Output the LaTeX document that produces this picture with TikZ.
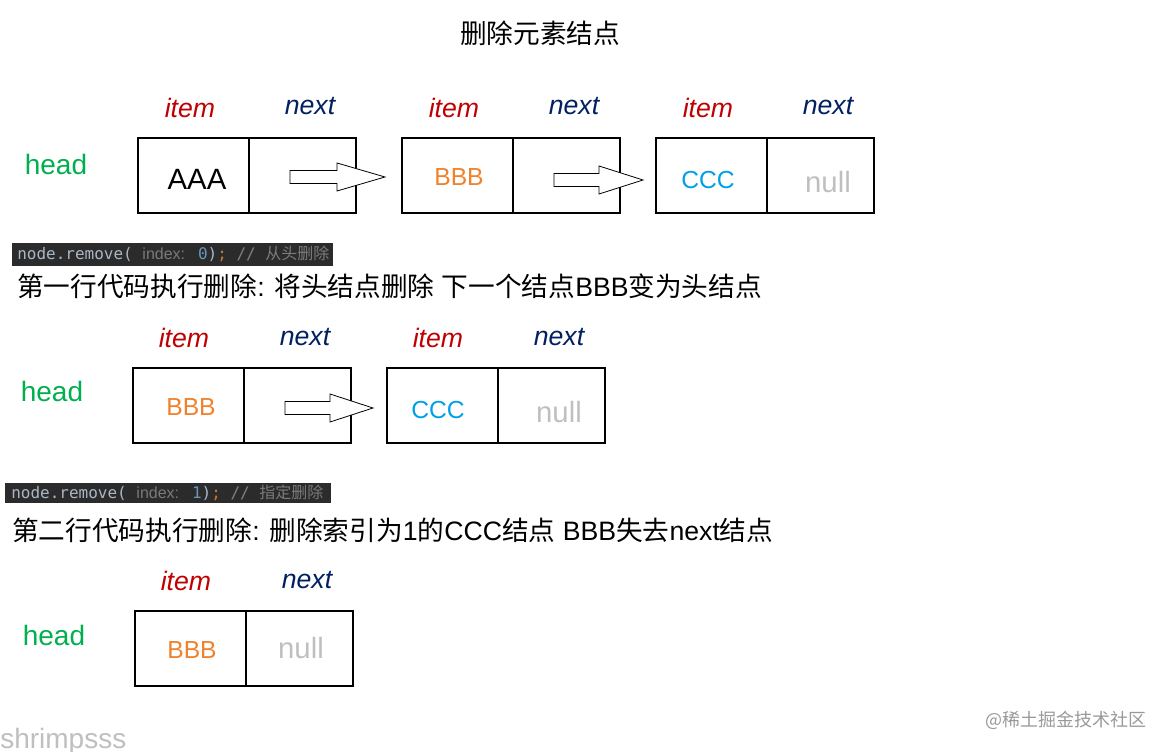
\documentclass[tikz,border=0pt]{standalone}
\usepackage{fontspec}
\setmainfont{Liberation Sans}
\newfontfamily\cjk{Noto Sans CJK SC}
\newfontfamily\monof{DejaVu Sans Mono}
\definecolor{itemred}{HTML}{C00000}
\definecolor{nextblue}{HTML}{002060}
\definecolor{headgreen}{HTML}{00B050}
\definecolor{bbborange}{HTML}{F0822D}
\definecolor{cccblue}{HTML}{00A0E6}
\definecolor{nullgray}{HTML}{BFBFBF}
\definecolor{codebg}{HTML}{2B2B2B}
\definecolor{codefg}{HTML}{A9B7C6}
\definecolor{hintgray}{HTML}{7A7A7A}
\definecolor{numblue}{HTML}{6897BB}
\definecolor{semiorange}{HTML}{CC7832}
\definecolor{commentgray}{HTML}{808080}
\tikzset{
  itemlbl/.style={font=\fontsize{20}{24}\selectfont\itshape, text=itemred, inner sep=0},
  nextlbl/.style={font=\fontsize{20}{24}\selectfont\itshape, text=nextblue, inner sep=0},
  headlbl/.style={font=\fontsize{21}{24}\selectfont, text=headgreen, inner sep=0},
  val/.style={font=\fontsize{18.5}{22}\selectfont, inner sep=0},
  nullval/.style={font=\fontsize{22}{26}\selectfont, inner sep=0, text=nullgray},
  boxline/.style={line width=2pt},
  divline/.style={line width=1.4pt},
  arrowline/.style={line width=0.6pt, fill=white},
  codebar/.style={fill=codebg, draw=none},
  codetext/.style={inner sep=0, anchor=west, font=\fontsize{12}{15}\monof, text=codefg},
  cnline/.style={inner sep=0, anchor=west, font=\fontsize{20}{22}\selectfont},
}
\newcommand\cellpair[3]{% x-left, y-top, name
  \draw[boxline] (#1,#2) rectangle ({#1+218},{#2+75});
  \draw[divline] ({#1+111},#2) -- ({#1+111},{#2+75});
}
\newcommand\blockarr[4]{% x-start, x-tip, y-center, x-head
  \draw[arrowline] (#1,{#3-6.5}) -- (#4,{#3-6.5}) -- (#4,{#3-14}) -- (#2,#3) -- (#4,{#3+14}) -- (#4,{#3+6.5}) -- (#1,{#3+6.5}) -- cycle;
}
\newcommand\hint[1]{{\rmfamily\fontsize{12}{14}\selectfont\color{hintgray}#1}}
\newcommand\cn[1]{{\cjk\fontsize{20}{24}\selectfont #1}}
\begin{document}
\begin{tikzpicture}[x=0.75pt,y=-0.75pt]
\useasboundingbox (0,0) rectangle (1168,752);
% title
\node[inner sep=0, font=\fontsize{20}{24}\cjk] (title) at (540,33) {删除元素结点};

% ---------- row 1 ----------
\node[headlbl] (h1) at (56,164) {head};
\node[itemlbl] (i1a) at (190,108) {item};
\node[nextlbl] (n1a) at (310,106) {next};
\node[itemlbl] (i1b) at (454,108) {item};
\node[nextlbl] (n1b) at (574,106) {next};
\node[itemlbl] (i1c) at (708,108) {item};
\node[nextlbl] (n1c) at (828,106) {next};
\cellpair{138}{138}{c1a}
\cellpair{402}{138}{c1b}
\cellpair{656}{138}{c1c}
\node[inner sep=0, font=\fontsize{22}{26}\selectfont] (v1a) at (197,179) {AAA};
\node[val, text=bbborange] (v1b) at (459,177) {BBB};
\node[val, text=cccblue] (v1c) at (708,180) {CCC};
\node[nullval] (v1d) at (828,182) {null};
\blockarr{290}{385}{177}{337}
\blockarr{554}{643}{180}{599}

% code 1
\fill[codebar] (12,243) rectangle (333,266);
\node[codetext] (code1) at (17,254) {node.remove( \hint{index:} {\color{numblue}0}){\color{semiorange};} {\color{commentgray}// \hint{\cjk 从头删除}}};
\node[cnline] (line1) at (17,286) {\cn{第一行代码执行删除}: \cn{将头结点删除} \cn{下一个结点}BBB\cn{变为头结点}};

% ---------- row 2 ----------
\node[headlbl] (h2) at (52,391) {head};
\node[itemlbl] (i2a) at (184,338) {item};
\node[nextlbl] (n2a) at (305,337) {next};
\node[itemlbl] (i2b) at (438,338) {item};
\node[nextlbl] (n2b) at (559,337) {next};
\cellpair{133}{368}{c2a}
\cellpair{387}{368}{c2b}
\node[val, text=bbborange] (v2a) at (191,407) {BBB};
\node[val, text=cccblue] (v2b) at (438,410) {CCC};
\node[nullval] (v2c) at (559,412) {null};
\blockarr{285}{373}{408}{330}

% code 2
\fill[codebar] (5,483) rectangle (331,503);
\node[codetext] (code2) at (11,493) {node.remove( \hint{index:} {\color{numblue}1}){\color{semiorange};} {\color{commentgray}// \hint{\cjk 指定删除}}};
\node[cnline] (line2) at (12,530) {\cn{第二行代码执行删除}: \cn{删除索引为}1\cn{的}CCC\cn{结点} BBB\cn{失去}next\cn{结点}};

% ---------- row 3 ----------
\node[headlbl] (h3) at (54,635) {head};
\node[itemlbl] (i3a) at (186,581) {item};
\node[nextlbl] (n3a) at (307,580) {next};
\cellpair{135}{611}{c3a}
\node[val, text=bbborange] (v3a) at (192,650) {BBB};
\node[nullval] (v3b) at (301,648) {null};

% watermarks
\node[inner sep=0, font=\fontsize{13.5}{16}\cjk, text=black!40] (wm) at (1066,720) {@稀土掘金技术社区};
\node[inner sep=0, anchor=base west, font=\fontsize{21}{24}\selectfont, text=black!25] (sig) at (0,748) {shrimpsss};
\end{tikzpicture}
\end{document}
